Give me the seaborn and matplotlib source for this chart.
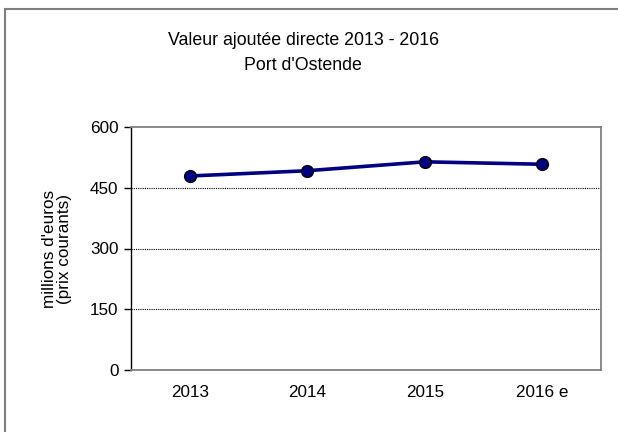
import pandas as pd
import matplotlib
matplotlib.use("Agg")
import matplotlib.pyplot as plt
from matplotlib.patches import Rectangle
import seaborn as sns

# data
years = ['2013', '2014', '2015', '2016 e']
valeur = [479, 492, 514, 508]
y_ticks = [0, 150, 300, 450, 600]

df = pd.DataFrame({'Annee': years, 'Valeur': valeur})

sns.set_theme(style="white")
plt.rcParams['font.family'] = ['Liberation Sans', 'DejaVu Sans']

fig = plt.figure(figsize=(6.18, 4.32), dpi=100)
ax = fig.add_axes([131 / 618, 1 - 370 / 432, 470 / 618, 243 / 432])

sns.lineplot(data=df, x='Annee', y='Valeur', ax=ax, color='#000080',
             linewidth=2.6, marker='o', markersize=8.5,
             markerfacecolor='#000080', markeredgecolor='black',
             markeredgewidth=1.0, sort=False)

ax.set_xlim(-0.5, len(years) - 0.5)
ax.set_ylim(0, 600)
ax.set_yticks(y_ticks)
ax.set_yticklabels([str(v) for v in y_ticks], fontsize=12.3, color='black')
ax.set_xticks(range(len(years)))
ax.set_xticklabels(years, fontsize=12.3, color='black')
ax.tick_params(axis='y', left=True, length=5, width=1, color='black', pad=4)
ax.tick_params(axis='x', bottom=False, pad=5)

for v in y_ticks[1:-1]:
    ax.axhline(v, color='black', linestyle=(0, (1, 1)), linewidth=0.8, zorder=0)

for side in ['top', 'right', 'bottom']:
    ax.spines[side].set_color('#808080')
    ax.spines[side].set_linewidth(1.3)
ax.spines['left'].set_color('black')
ax.spines['left'].set_linewidth(1.0)

ax.set_xlabel('')
ax.set_ylabel("millions d'euros\n(prix courants)", fontsize=12.3, color='black',
              labelpad=13, linespacing=1.0)

fig.text(303 / 618, 1 - 53 / 432, "Valeur ajoutée directe 2013 - 2016\nPort d'Ostende",
         ha='center', va='center', fontsize=12.8, color='black', linespacing=1.6)

# outer chart frame (right and bottom edges fall outside the picture)
fig.add_artist(Rectangle((4.5 / 618, -0.1), 1.2, 0.1 + (432 - 8.5) / 432,
                         transform=fig.transFigure, fill=False,
                         edgecolor='#808080', linewidth=1.5))

fig.savefig('out.png', dpi=100)
